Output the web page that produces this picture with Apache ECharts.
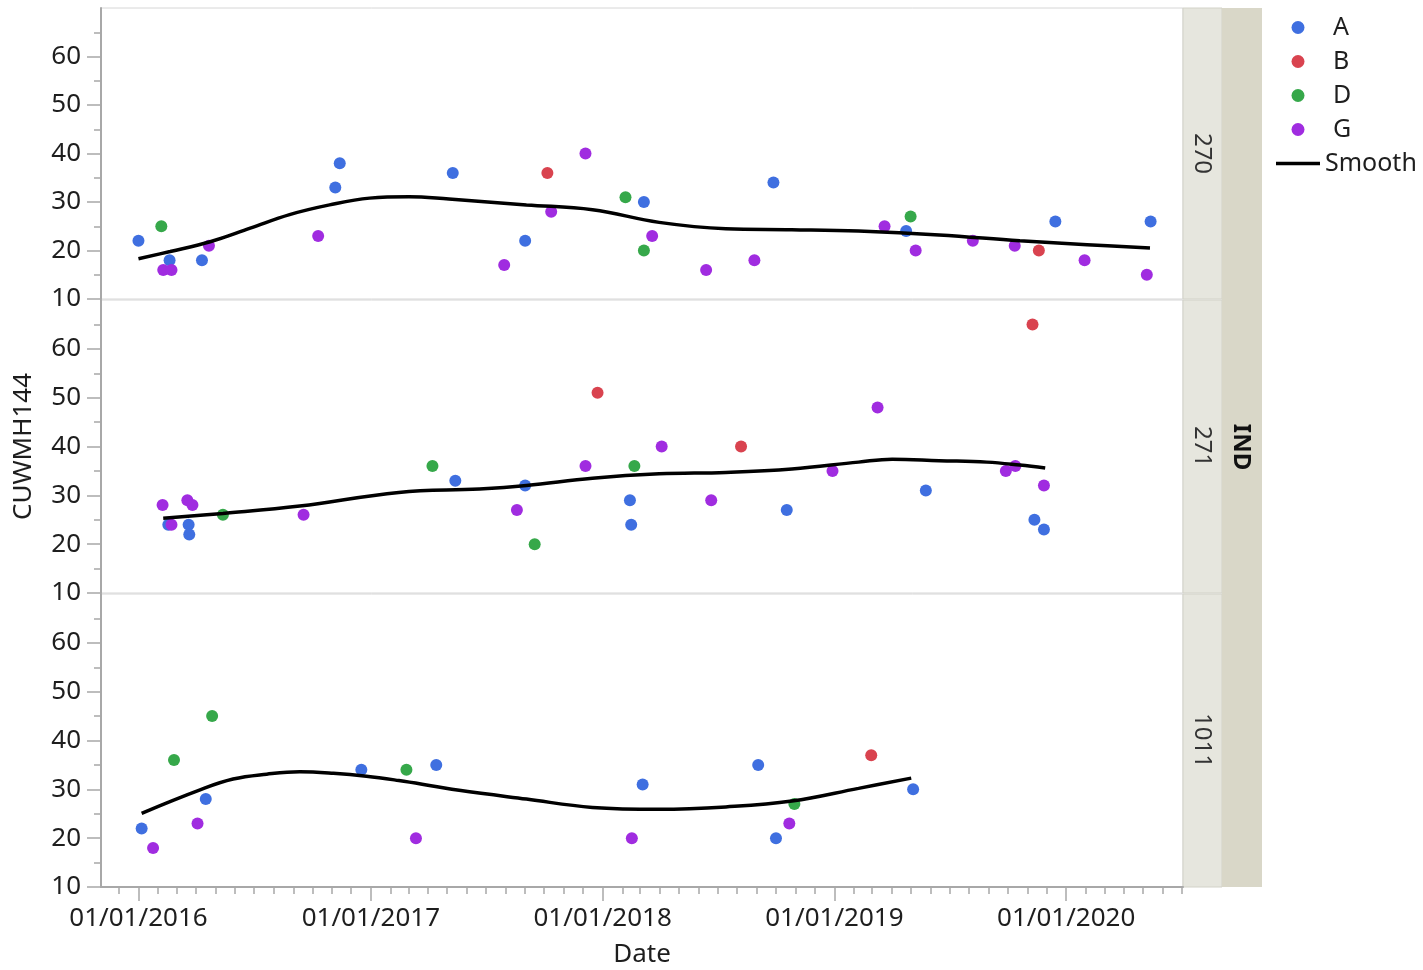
<!DOCTYPE html>
<html>
<head>
<meta charset="utf-8">
<script src="https://cdn.jsdelivr.net/npm/echarts@6/dist/echarts.min.js"></script>
<style>
  html, body { margin: 0; padding: 0; background: #fff; }
  #chart { width: 1423px; height: 970px; }
</style>
</head>
<body>
<div id="chart"></div>
<script>
// strip labels and groups
const panels = ['270', '271', '1011'];
const groups = ['A', 'B', 'D', 'G'];
const yearTicks = [2016, 2017, 2018, 2019, 2020];
const xStart = '2015-11-03';
const xEnd = '2020-07-03';

// panel 270
const a270 = [['2016-01-01', 22], ['2016-02-19', 18], ['2016-04-10', 18], ['2016-11-06', 33], ['2016-11-13', 38], ['2017-05-10', 36], ['2017-09-01', 22], ['2018-03-07', 30], ['2018-09-27', 34], ['2019-04-24', 24], ['2019-12-15', 26], ['2020-05-13', 26]];
const b270 = [['2017-10-06', 36], ['2019-11-19', 20]];
const d270 = [['2016-02-06', 25], ['2018-02-06', 31], ['2018-03-07', 20], ['2019-05-01', 27]];
const g270 = [['2016-02-09', 16], ['2016-02-22', 16], ['2016-04-21', 21], ['2016-10-10', 23], ['2017-07-30', 17], ['2017-10-12', 28], ['2017-12-05', 40], ['2018-03-20', 23], ['2018-06-13', 16], ['2018-08-28', 18], ['2019-03-21', 25], ['2019-05-09', 20], ['2019-08-07', 22], ['2019-10-12', 21], ['2020-01-30', 18], ['2020-05-07', 15]];
const smooth270 = [['2016-01-01', 18.3], ['2016-02-20', 19.8], ['2016-04-23', 21.8], ['2016-06-25', 24.6], ['2016-08-26', 27.4], ['2016-10-28', 29.4], ['2016-12-30', 30.8], ['2017-03-02', 31.1], ['2017-05-04', 30.6], ['2017-09-03', 29.4], ['2017-12-16', 28.4], ['2018-03-31', 25.8], ['2018-07-14', 24.5], ['2018-10-26', 24.3], ['2019-02-08', 24.0], ['2019-06-15', 23.2], ['2019-10-20', 22.0], ['2020-02-03', 21.2], ['2020-05-12', 20.5]];

// panel 271
const a271 = [['2016-02-17', 24], ['2016-03-20', 24], ['2016-03-21', 22], ['2017-05-14', 33], ['2017-09-01', 32], ['2018-02-13', 29], ['2018-02-15', 24], ['2018-10-18', 27], ['2019-05-25', 31], ['2019-11-12', 25], ['2019-11-27', 23]];
const b271 = [['2017-12-24', 51], ['2018-08-07', 40], ['2019-11-09', 65]];
const d271 = [['2016-05-13', 26], ['2017-04-08', 36], ['2017-09-16', 20], ['2018-02-20', 36]];
const g271 = [['2016-02-08', 28], ['2016-02-22', 24], ['2016-03-18', 29], ['2016-03-26', 28], ['2016-09-17', 26], ['2017-08-19', 27], ['2017-12-05', 36], ['2018-04-04', 40], ['2018-06-21', 29], ['2018-12-29', 35], ['2019-03-10', 48], ['2019-09-28', 35], ['2019-10-13', 36], ['2019-11-27', 32]];
const smooth271 = [['2016-02-09', 25.3], ['2016-05-13', 26.3], ['2016-09-11', 27.8], ['2017-02-14', 30.6], ['2017-06-21', 31.3], ['2017-09-03', 32.0], ['2017-12-16', 33.5], ['2018-03-31', 34.4], ['2018-07-14', 34.7], ['2018-10-26', 35.4], ['2019-02-08', 36.8], ['2019-04-02', 37.4], ['2019-06-15', 37.1], ['2019-08-29', 36.8], ['2019-10-20', 36.2], ['2019-11-29', 35.6]];

// panel 1011
const a1011 = [['2016-01-06', 22], ['2016-04-16', 28], ['2016-12-17', 34], ['2017-04-14', 35], ['2018-03-05', 31], ['2018-09-03', 35], ['2018-10-01', 20], ['2019-05-05', 30]];
const b1011 = [['2019-02-28', 37]];
const d1011 = [['2016-02-26', 36], ['2016-04-26', 45], ['2017-02-26', 34], ['2018-10-30', 27]];
const g1011 = [['2016-01-24', 18], ['2016-04-03', 23], ['2017-03-13', 20], ['2018-02-16', 20], ['2018-10-22', 23]];
const smooth1011 = [['2016-01-06', 25.1], ['2016-04-07', 29.9], ['2016-05-29', 32.1], ['2016-07-21', 33.1], ['2016-09-11', 33.6], ['2016-11-03', 33.3], ['2016-12-25', 32.7], ['2017-02-14', 31.8], ['2017-04-08', 30.7], ['2017-05-20', 29.8], ['2017-09-03', 28.0], ['2017-12-16', 26.3], ['2018-03-31', 25.9], ['2018-07-14', 26.4], ['2018-10-26', 27.6], ['2019-02-08', 30.2], ['2019-05-02', 32.3]];

const panelPoints = [
  { A: a270, B: b270, D: d270, G: g270 },
  { A: a271, B: b271, D: d271, G: g271 },
  { A: a1011, B: b1011, D: d1011, G: g1011 }
];
const panelSmooth = [smooth270, smooth271, smooth1011];

const colors = { A: '#3f6fe0', B: '#d9434f', D: '#36a84a', G: '#a02ce0' };
const font = 'Noto Sans';

function toTime(s) {
  const p = s.split('-');
  return new Date(+p[0], +p[1] - 1, +p[2]).getTime();
}
function conv(arr) {
  return arr.map(d => [toTime(d[0]), d[1]]);
}
function pad(n) {
  return (n < 10 ? '0' : '') + n;
}

const minT = toTime(xStart);
const maxT = toTime(xEnd);
const yearValues = yearTicks.map(y => new Date(y, 0, 1).getTime());
const monthValues = [];
for (let y = 2015; y <= 2020; y++) {
  for (let m = 0; m < 12; m++) {
    const t = new Date(y, m, 1).getTime();
    if (t >= minT && t <= maxT) monthValues.push(t);
  }
}

const grids = [
  { left: 101, width: 1082, top: 8, height: 291 },
  { left: 101, width: 1082, top: 300, height: 293 },
  { left: 101, width: 1082, top: 594, height: 293 }
].map(g => Object.assign(g, { show: true, borderColor: '#d6d6d6', borderWidth: 1 }));

const axisGray = '#a8a8a8';
const textColor = '#1e1e1e';

// x axes are plain value axes holding timestamps
const xAxes = [0, 1, 2].map(i => ({
  type: 'value',
  gridIndex: i,
  position: 'bottom',
  min: minT,
  max: maxT,
  splitLine: { show: false },
  axisLine: { show: i === 2, lineStyle: { color: axisGray, width: 2 } },
  axisTick: {
    show: i === 2,
    customValues: yearValues,
    length: 14,
    lineStyle: { color: axisGray, width: 1.5 }
  },
  axisLabel: {
    show: i === 2,
    customValues: yearValues,
    margin: 19,
    fontSize: 26,
    fontFamily: font,
    color: textColor,
    formatter: v => {
      const d = new Date(v);
      return pad(d.getDate()) + '/' + pad(d.getMonth() + 1) + '/' + d.getFullYear();
    }
  },
  name: i === 2 ? 'Date' : '',
  nameLocation: 'middle',
  nameGap: 55,
  nameTextStyle: { fontSize: 26, fontFamily: font, color: textColor }
}));
// monthly minor ticks on the bottom panel
xAxes.push({
  type: 'value',
  gridIndex: 2,
  position: 'bottom',
  min: minT,
  max: maxT,
  splitLine: { show: false },
  axisLine: { show: false },
  axisLabel: { show: false },
  axisTick: {
    show: true,
    customValues: monthValues,
    length: 7,
    lineStyle: { color: axisGray, width: 1.5 }
  }
});

const yAxes = [0, 1, 2].map(i => ({
  type: 'value',
  gridIndex: i,
  min: 10,
  max: 70,
  interval: 10,
  splitLine: { show: false },
  axisLine: { show: true, lineStyle: { color: axisGray, width: 2 } },
  axisTick: {
    show: true,
    customValues: [10, 20, 30, 40, 50, 60],
    length: 14,
    lineStyle: { color: axisGray, width: 1.5 }
  },
  minorTick: { show: true, splitNumber: 2, length: 7, lineStyle: { color: axisGray, width: 1.5 } },
  axisLabel: {
    margin: 20,
    fontSize: 26,
    fontFamily: font,
    color: textColor,
    formatter: v => (v === 70 ? '' : v)
  },
  name: i === 1 ? 'CUWMH144' : '',
  nameLocation: 'middle',
  nameGap: 64,
  nameTextStyle: { fontSize: 26, fontFamily: font, color: textColor }
}));

const series = [];
panelPoints.forEach((pts, i) => {
  groups.forEach(g => {
    series.push({
      name: g,
      type: 'scatter',
      xAxisIndex: i,
      yAxisIndex: i,
      symbol: 'circle',
      symbolSize: 12,
      itemStyle: { color: colors[g], opacity: 1 },
      data: conv(pts[g]),
      z: 2
    });
  });
  series.push({
    name: 'Smooth',
    type: 'line',
    xAxisIndex: i,
    yAxisIndex: i,
    smooth: 0.4,
    symbol: 'none',
    lineStyle: { color: '#000', width: 3.5 },
    itemStyle: { color: '#000' },
    data: conv(panelSmooth[i]),
    z: 3
  });
});

const stripGraphics = [];
grids.forEach((g, i) => {
  stripGraphics.push({
    type: 'rect',
    shape: { x: 1183, y: g.top, width: 39, height: g.height },
    style: { fill: '#e6e6de', stroke: '#d2d2c8', lineWidth: 1 },
    silent: true
  });
  stripGraphics.push({
    type: 'text',
    x: 1202,
    y: g.top + g.height / 2,
    rotation: -Math.PI / 2,
    style: {
      text: panels[i],
      x: 0, y: 0,
      align: 'center',
      verticalAlign: 'middle',
      fontSize: 24,
      fontFamily: font,
      fill: '#333'
    },
    silent: true
  });
});
stripGraphics.push({
  type: 'rect',
  shape: { x: 1222, y: 8, width: 40, height: 879 },
  style: { fill: '#d9d7c8' },
  silent: true
});
stripGraphics.push({
  type: 'text',
  x: 1241,
  y: 447,
  rotation: -Math.PI / 2,
  style: {
    text: 'IND',
    x: 0, y: 0,
    align: 'center',
    verticalAlign: 'middle',
    fontSize: 24,
    fontWeight: 'bold',
    fontFamily: font,
    fill: '#111'
  },
  silent: true
});

const chart = echarts.init(document.getElementById('chart'));
chart.setOption({
  animation: false,
  backgroundColor: '#fff',
  grid: grids,
  xAxis: xAxes,
  yAxis: yAxes,
  legend: {
    orient: 'vertical',
    left: 1276,
    top: 15,
    padding: 0,
    itemWidth: 44,
    itemHeight: 13,
    itemGap: 9,
    textStyle: { fontSize: 25, fontFamily: font, color: textColor },
    data: groups.map(g => ({ name: g, icon: 'circle', textStyle: { padding: [0, 0, 0, 8] } }))
      .concat([{ name: 'Smooth', icon: 'path://M0,0L44,0L44,3.5L0,3.5Z' }])
  },
  graphic: stripGraphics,
  series: series
});
</script>
</body>
</html>
